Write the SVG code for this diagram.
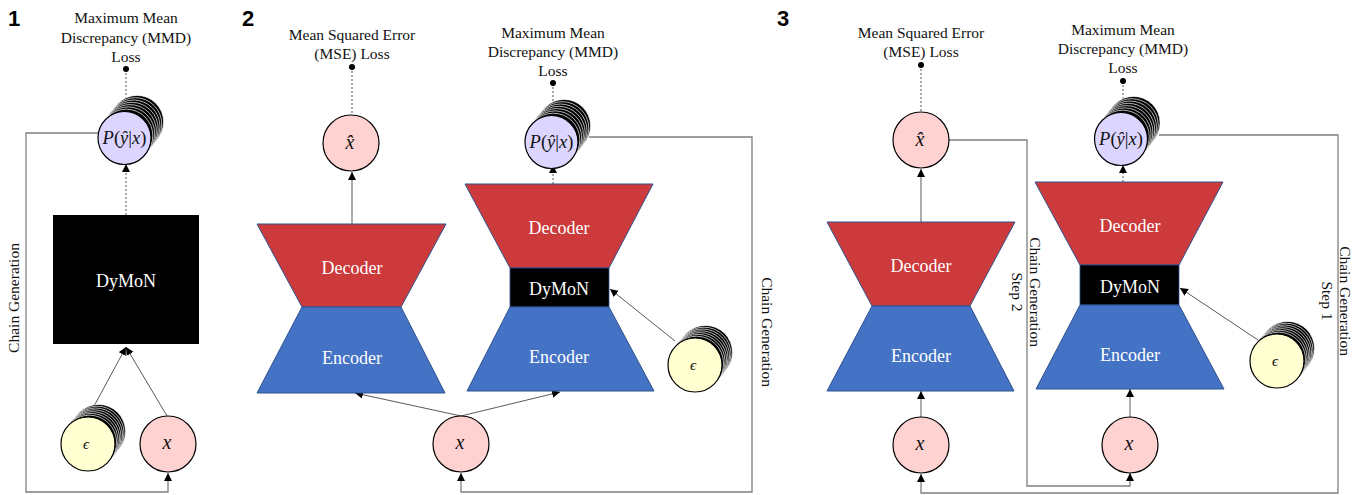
<svg xmlns="http://www.w3.org/2000/svg" xmlns:xlink="http://www.w3.org/1999/xlink" width="1364" height="495" viewBox="0 0 1364 495">
<style>
.lbl{font-family:"Liberation Serif",serif;font-size:15.5px;fill:#111;text-anchor:middle}
.num{font-family:"Liberation Sans",Arial,sans-serif;font-size:22px;font-weight:bold;fill:#000}
.wt{font-family:"Liberation Serif",serif;font-size:18px;fill:#fff;text-anchor:middle}
.mt{font-family:"Liberation Serif",serif;font-size:18.5px;fill:#111;text-anchor:middle}
.mx{font-family:"Liberation Serif",serif;font-size:20px;fill:#111;text-anchor:middle;font-style:italic}
.me{font-family:"Liberation Serif",serif;font-size:15px;fill:#111;text-anchor:middle;font-style:italic}
.it{font-style:italic}
.dec{fill:#CC3A3B;stroke:#2F528F;stroke-width:1}
.enc{fill:#4472C4;stroke:#2F528F;stroke-width:1}
.dym{fill:#000;stroke:#2F528F;stroke-width:0.8}
.pink{fill:#FFD2D2;stroke:#000;stroke-width:1.2}
.lav{fill:#DCD5FF;stroke:#000;stroke-width:1.2}
.yel{fill:#FFFFD2;stroke:#000;stroke-width:1.2}
.back{fill:#000;stroke:#fff;stroke-width:0.7}
.loop{fill:none;stroke:#7F7F7F;stroke-width:1.3}
.arr{fill:none;stroke:#595959;stroke-width:1}
.dash{fill:none;stroke:#555;stroke-width:1;stroke-dasharray:2,2}
</style>
<defs>
<marker id="ah" viewBox="0 0 10 10" refX="10" refY="5" markerWidth="8" markerHeight="8" markerUnits="userSpaceOnUse" orient="auto">
<path d="M0,0 L10,5 L0,10 z" fill="#000"/>
</marker>
<g id="stackP">
<circle class="back" cx="12.6" cy="-16.1" r="26.5"/>
<circle class="back" cx="10.8" cy="-13.8" r="26.5"/>
<circle class="back" cx="9" cy="-11.5" r="26.5"/>
<circle class="back" cx="7.2" cy="-9.2" r="26.5"/>
<circle class="back" cx="5.4" cy="-6.9" r="26.5"/>
<circle class="back" cx="3.6" cy="-4.6" r="26.5"/>
<circle class="back" cx="1.8" cy="-2.3" r="26.5"/>
</g>
<g id="stackE">
<circle class="back" cx="10.5" cy="-12.6" r="27"/>
<circle class="back" cx="9" cy="-10.8" r="27"/>
<circle class="back" cx="7.5" cy="-9" r="27"/>
<circle class="back" cx="6" cy="-7.2" r="27"/>
<circle class="back" cx="4.5" cy="-5.4" r="27"/>
<circle class="back" cx="3" cy="-3.6" r="27"/>
<circle class="back" cx="1.5" cy="-1.8" r="27"/>
</g>
</defs>
<rect width="1364" height="495" fill="#fff"/>

<g id="connectors">
<line class="dash" x1="126" y1="69" x2="126" y2="110"/>
<line class="dash" x1="126" y1="215" x2="126" y2="164" marker-end="url(#ah)"/>
<line class="arr" x1="93" y1="408" x2="126" y2="347" marker-end="url(#ah)"/>
<line class="arr" x1="167" y1="416" x2="126" y2="347" marker-end="url(#ah)"/>
<polyline class="loop" points="98,133 26,133 26,492 168,492 168,473" marker-end="url(#ah)"/>
<line class="dash" x1="352" y1="67" x2="352" y2="115"/>
<line class="arr" x1="352" y1="224" x2="352" y2="172" marker-end="url(#ah)"/>
<line class="dash" x1="553" y1="83" x2="553" y2="112"/>
<line class="dash" x1="553" y1="184" x2="553" y2="165" marker-end="url(#ah)"/>
<line class="arr" x1="461" y1="416" x2="355" y2="393" marker-end="url(#ah)"/>
<line class="arr" x1="461" y1="416" x2="560" y2="392" marker-end="url(#ah)"/>
<line class="arr" x1="675" y1="341" x2="610" y2="289" marker-end="url(#ah)"/>
<polyline class="loop" points="589,137 752,137 752,492 461,492 461,473" marker-end="url(#ah)"/>
<line class="dash" x1="921" y1="65" x2="921" y2="112"/>
<line class="arr" x1="921" y1="222" x2="921" y2="169" marker-end="url(#ah)"/>
<line class="dash" x1="1123" y1="81" x2="1123" y2="108"/>
<line class="dash" x1="1123" y1="182" x2="1123" y2="165" marker-end="url(#ah)"/>
<line class="arr" x1="921" y1="418" x2="921" y2="391" marker-end="url(#ah)"/>
<line class="arr" x1="1130" y1="418" x2="1130" y2="389" marker-end="url(#ah)"/>
<line class="arr" x1="1258" y1="340" x2="1180" y2="288" marker-end="url(#ah)"/>
<polyline class="loop" points="949,140 1027,140 1027,486 1130,486 1130,473" marker-end="url(#ah)"/>
<polyline class="loop" points="1159,135 1338,135 1338,493 921,493 921,474" marker-end="url(#ah)"/>
</g>

<text class="num" x="8" y="26">1</text>
<text class="num" x="242" y="26">2</text>
<text class="num" x="777" y="26">3</text>

<g id="p1-mmd">
<text class="lbl" x="126" y="23">Maximum Mean</text>
<text class="lbl" x="126" y="43">Discrepancy (MMD)</text>
<text class="lbl" x="126" y="62">Loss</text>
<circle cx="126" cy="69" r="3" fill="#000"/>
</g>
<g id="p1-P">
<use xlink:href="#stackP" x="124.5" y="138"/>
<circle class="lav" cx="124.5" cy="138" r="26.5"/>
<text class="mt" x="124.5" y="144"><tspan class="it">P</tspan>(<tspan class="it">ŷ</tspan>|<tspan class="it">x</tspan>)</text>
</g>
<g id="p1-dymon">
<rect x="53" y="215" width="146" height="129" fill="#000"/>
<text class="wt" x="126" y="287">DyMoN</text>
</g>
<g id="p1-eps">
<use xlink:href="#stackE" x="88" y="444"/>
<circle class="yel" cx="88" cy="444" r="27"/>
<text class="me" x="86" y="449">ϵ</text>
</g>
<g id="p1-x">
<circle class="pink" cx="168" cy="444" r="28"/>
<text class="mx" x="167" y="449">x</text>
</g>
<g id="p1-chain">
<text class="lbl" transform="translate(19,298) rotate(-90)">Chain Generation</text>
</g>

<g id="p2-mse">
<text class="lbl" x="352" y="40">Mean Squared Error</text>
<text class="lbl" x="352" y="59">(MSE) Loss</text>
<circle cx="352" cy="67" r="3" fill="#000"/>
</g>
<g id="p2-xhat">
<circle class="pink" cx="351" cy="143" r="28"/>
<text class="mx" x="350" y="149">x̂</text>
</g>
<g id="p2-dec1">
<polygon class="dec" points="257,224 446,224 401,307 302,307"/>
<text class="wt" x="352" y="274">Decoder</text>
</g>
<g id="p2-enc1">
<polygon class="enc" points="302,307 401,307 445,393 257,393"/>
<text class="wt" x="352" y="364">Encoder</text>
</g>
<g id="p2-mmd">
<text class="lbl" x="553" y="38">Maximum Mean</text>
<text class="lbl" x="553" y="57">Discrepancy (MMD)</text>
<text class="lbl" x="553" y="76">Loss</text>
<circle cx="553" cy="83" r="3" fill="#000"/>
</g>
<g id="p2-P">
<use xlink:href="#stackP" x="551.5" y="142"/>
<circle class="lav" cx="551.5" cy="142" r="26.5"/>
<text class="mt" x="551.5" y="148"><tspan class="it">P</tspan>(<tspan class="it">ŷ</tspan>|<tspan class="it">x</tspan>)</text>
</g>
<g id="p2-dec2">
<polygon class="dec" points="465,184 653,184 609,268 510,268"/>
<text class="wt" x="559" y="234">Decoder</text>
</g>
<g id="p2-dymon">
<rect class="dym" x="510" y="268" width="99" height="39"/>
<text class="wt" x="559" y="295">DyMoN</text>
</g>
<g id="p2-enc2">
<polygon class="enc" points="510,307 609,307 654,391 467,391"/>
<text class="wt" x="559" y="363">Encoder</text>
</g>
<g id="p2-eps">
<use xlink:href="#stackE" x="695" y="365"/>
<circle class="yel" cx="695" cy="365" r="27"/>
<text class="me" x="693" y="370">ϵ</text>
</g>
<g id="p2-x">
<circle class="pink" cx="461" cy="444" r="28"/>
<text class="mx" x="460" y="449">x</text>
</g>
<g id="p2-chain">
<text class="lbl" transform="translate(762,332) rotate(90)">Chain Generation</text>
</g>

<g id="p3-mse">
<text class="lbl" x="921" y="38">Mean Squared Error</text>
<text class="lbl" x="921" y="57">(MSE) Loss</text>
<circle cx="921" cy="65" r="3" fill="#000"/>
</g>
<g id="p3-xhat">
<circle class="pink" cx="921" cy="140" r="28"/>
<text class="mx" x="920" y="146">x̂</text>
</g>
<g id="p3-dec1">
<polygon class="dec" points="827,222 1015,222 970,306 872,306"/>
<text class="wt" x="921" y="272">Decoder</text>
</g>
<g id="p3-enc1">
<polygon class="enc" points="872,306 970,306 1014,391 827,391"/>
<text class="wt" x="921" y="362">Encoder</text>
</g>
<g id="p3-x1">
<circle class="pink" cx="921" cy="445" r="28"/>
<text class="mx" x="920" y="450">x</text>
</g>
<g id="p3-chain2">
<text class="lbl" transform="translate(1030,292) rotate(90)">Chain Generation</text>
<text class="lbl" transform="translate(1012,292) rotate(90)">Step 2</text>
</g>
<g id="p3-mmd">
<text class="lbl" x="1123" y="35">Maximum Mean</text>
<text class="lbl" x="1123" y="54">Discrepancy (MMD)</text>
<text class="lbl" x="1123" y="73">Loss</text>
<circle cx="1123" cy="81" r="3" fill="#000"/>
</g>
<g id="p3-P">
<use xlink:href="#stackP" x="1121" y="139"/>
<circle class="lav" cx="1121" cy="139" r="26.5"/>
<text class="mt" x="1121" y="145"><tspan class="it">P</tspan>(<tspan class="it">ŷ</tspan>|<tspan class="it">x</tspan>)</text>
</g>
<g id="p3-dec2">
<polygon class="dec" points="1035,182 1223,182 1179,265 1080,265"/>
<text class="wt" x="1130" y="232">Decoder</text>
</g>
<g id="p3-dymon">
<rect class="dym" x="1080" y="265" width="99" height="40"/>
<text class="wt" x="1130" y="293">DyMoN</text>
</g>
<g id="p3-enc2">
<polygon class="enc" points="1080,305 1179,305 1224,389 1036,389"/>
<text class="wt" x="1130" y="361">Encoder</text>
</g>
<g id="p3-eps">
<use xlink:href="#stackE" x="1277" y="361"/>
<circle class="yel" cx="1277" cy="361" r="27"/>
<text class="me" x="1275" y="366">ϵ</text>
</g>
<g id="p3-x2">
<circle class="pink" cx="1130" cy="445" r="28"/>
<text class="mx" x="1129" y="450">x</text>
</g>
<g id="p3-chain1">
<text class="lbl" transform="translate(1340,301) rotate(90)">Chain Generation</text>
<text class="lbl" transform="translate(1322,301) rotate(90)">Step 1</text>
</g>
</svg>
